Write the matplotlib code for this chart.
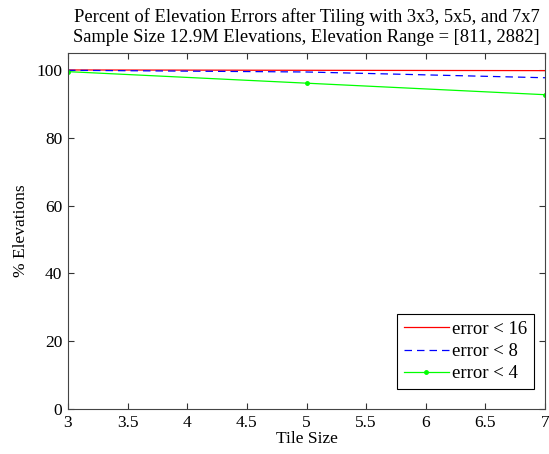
import matplotlib
matplotlib.use("Agg")
import matplotlib.pyplot as plt

tile_size = [3, 5, 7]
err16 = [100.0, 99.9, 99.8]
err8 = [99.9, 99.4, 97.7]
err4 = [99.5, 96.1, 92.7]

plt.rcParams['font.family'] = ['Liberation Serif', 'DejaVu Serif']

W, H = 549, 454
fig = plt.figure(figsize=(W/100, H/100), dpi=100)
ax = fig.add_axes([68/W, 1-409/H, (545-68)/W, (409-53)/H])

ax.plot(tile_size, err16, color='#ff0000', lw=0.9, label='error < 16')
ax.plot(tile_size, err8, color='#0000ff', lw=0.9, ls=(0, (6, 4)), label='error < 8')
ax.plot(tile_size, err4, color='#00ff00', lw=0.9, marker='.', ms=5, label='error < 4')

ax.set_xlim(3, 7)
ax.set_ylim(0, 105)
ax.set_xticks([3, 3.5, 4, 4.5, 5, 5.5, 6, 6.5, 7])
ax.set_xticklabels(['3', '3.5', '4', '4.5', '5', '5.5', '6', '6.5', '7'])
ax.set_yticks([0, 20, 40, 60, 80, 100])
ax.tick_params(direction='in', top=True, right=True, length=4, width=0.8,
               labelsize=12.5, colors='#333333', labelcolor='black')
ax.tick_params(axis='x', pad=4)
ax.tick_params(axis='y', pad=4)
for s in ax.spines.values():
    s.set_color('#444444')
    s.set_linewidth(0.8)

ax.set_xlabel('Tile Size', fontsize=12.5, labelpad=0)
ax.set_ylabel('% Elevations', fontsize=12.5, labelpad=5)
ax.set_title('Percent of Elevation Errors after Tiling with 3x3, 5x5, and 7x7\n'
             'Sample Size 12.9M Elevations, Elevation Range = [811, 2882]',
             fontsize=13.3, pad=8, linespacing=1.2)

leg = ax.legend(loc='lower right', bbox_to_anchor=(534/W, 1-389/H),
                bbox_transform=fig.transFigure, fontsize=13.5, frameon=True,
                fancybox=False, edgecolor='black', framealpha=1, borderpad=0.35,
                labelspacing=0.28, handlelength=2.4, handletextpad=0.2,
                borderaxespad=0)
leg.get_frame().set_linewidth(0.8)

fig.savefig('out.png', dpi=100)
